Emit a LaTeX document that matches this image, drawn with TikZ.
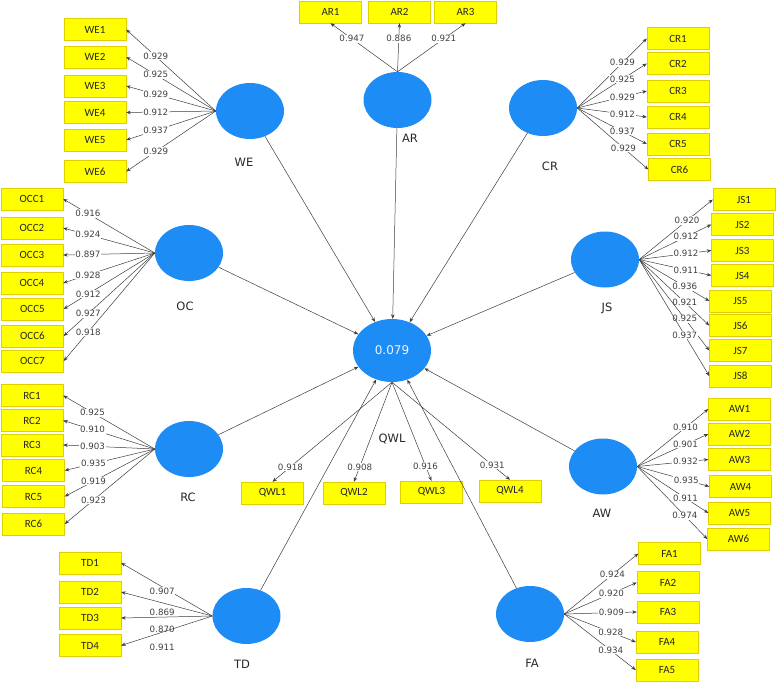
\documentclass[tikz,border=0pt]{standalone}
\usepackage{fontspec}
\setmainfont{DejaVu Sans}
\newfontfamily\boxfont{Carlito}
\usetikzlibrary{shapes.geometric,arrows.meta}
\definecolor{lvblue}{RGB}{30,140,245}
\definecolor{indyellow}{RGB}{255,255,0}
\definecolor{indedge}{RGB}{225,205,0}
\definecolor{pathgray}{RGB}{60,60,60}
\tikzset{
  lv/.style={ellipse,fill=lvblue,minimum width=68pt,minimum height=56pt,inner sep=0pt},
  ind/.style={rectangle,fill=indyellow,draw=indedge,line width=0.4pt,minimum width=62pt,
    minimum height=22pt,inner sep=0pt,text=black!85,font=\boxfont\fontsize{11}{13}\selectfont},
  lvname/.style={text=black!85,font=\fontsize{11.5}{13}\selectfont},
  wt/.style={fill=white,inner sep=0.8pt,text=black!75,font=\fontsize{8.7}{10}\selectfont},
  ln/.style={draw=pathgray,line width=0.5pt,-{Stealth[length=4.5pt,width=3.5pt]}},
}
\newcommand{\indbox}[4]{\node[ind] (#1) at (#2,#3) {#4};}
\newcommand{\ldline}[4]{\draw[ln] (#1) -- node[wt,#4] {#3} (#2);}

\begin{document}
\begin{tikzpicture}[x=1pt,y=-1pt]
\useasboundingbox (0,0) rectangle (777,683);
% ---- latent variables
\node[lv] (WE) at (250,111) {};
\node[lv] (AR) at (397.5,100) {};
\node[lv] (CR) at (543,108) {};
\node[lv] (OC) at (189,253) {};
\node[lv] (JS) at (605,259.5) {};
\node[lv,minimum width=78pt,minimum height=63pt,text=white!92!lvblue,font=\fontsize{12}{14}\selectfont] (QWL) at (392,350.5) {0.079};
\node[lv] (RC) at (189,449) {};
\node[lv] (AW) at (603,466.5) {};
\node[lv] (TD) at (246.5,616) {};
\node[lv] (FA) at (530,614) {};

% ---- names
\node[lvname] (WE-n) at (244,162) {WE};
\node[lvname] (AR-n) at (410,138) {AR};
\node[lvname] (CR-n) at (550,166) {CR};
\node[lvname] (OC-n) at (185,306) {OC};
\node[lvname] (JS-n) at (607,308) {JS};
\node[lvname] (QWL-n) at (392,439) {QWL};
\node[lvname] (RC-n) at (188,497) {RC};
\node[lvname] (AW-n) at (602,513) {AW};
\node[lvname] (TD-n) at (242,664) {TD};
\node[lvname] (FA-n) at (532,663) {FA};

% ---- indicators
\indbox{WE1}{95}{29.5}{WE1}
\indbox{WE2}{95}{57}{WE2}
\indbox{WE3}{95}{86}{WE3}
\indbox{WE4}{95}{112.5}{WE4}
\indbox{WE5}{95}{140}{WE5}
\indbox{WE6}{95}{171.5}{WE6}

\indbox{AR1}{330.5}{12}{AR1}
\indbox{AR2}{399.5}{12}{AR2}
\indbox{AR3}{465.5}{12}{AR3}

\indbox{CR1}{678}{38.5}{CR1}
\indbox{CR2}{678}{63.5}{CR2}
\indbox{CR3}{678}{91}{CR3}
\indbox{CR4}{678}{117}{CR4}
\indbox{CR5}{678}{144}{CR5}
\indbox{CR6}{679.5}{169.5}{CR6}

\indbox{OCC1}{32}{199}{OCC1}
\indbox{OCC2}{32}{228}{OCC2}
\indbox{OCC3}{32}{255}{OCC3}
\indbox{OCC4}{32}{283}{OCC4}
\indbox{OCC5}{32.5}{309}{OCC5}
\indbox{OCC6}{32.5}{336}{OCC6}
\indbox{OCC7}{32.5}{361}{OCC7}

\indbox{JS1}{744}{199.5}{JS1}
\indbox{JS2}{742.5}{224.5}{JS2}
\indbox{JS3}{742.5}{250.5}{JS3}
\indbox{JS4}{742.5}{275.5}{JS4}
\indbox{JS5}{740.5}{301}{JS5}
\indbox{JS6}{740.5}{325.5}{JS6}
\indbox{JS7}{740.5}{350.5}{JS7}
\indbox{JS8}{740.5}{376}{JS8}

\indbox{RC1}{32}{395.5}{RC1}
\indbox{RC2}{32}{420.5}{RC2}
\indbox{RC3}{32}{445}{RC3}
\indbox{RC4}{33.5}{470.5}{RC4}
\indbox{RC5}{33.5}{496.5}{RC5}
\indbox{RC6}{33.5}{524}{RC6}

\indbox{QWL1}{272.5}{493}{QWL1}
\indbox{QWL2}{354}{493}{QWL2}
\indbox{QWL3}{431.5}{492}{QWL3}
\indbox{QWL4}{510}{491}{QWL4}

\indbox{AW1}{739.5}{409}{AW1}
\indbox{AW2}{739.5}{434}{AW2}
\indbox{AW3}{739.5}{459.5}{AW3}
\indbox{AW4}{740.5}{486.5}{AW4}
\indbox{AW5}{739.5}{513}{AW5}
\indbox{AW6}{738.5}{539}{AW6}

\indbox{TD1}{90}{563}{TD1}
\indbox{TD2}{90}{592}{TD2}
\indbox{TD3}{90}{618}{TD3}
\indbox{TD4}{90}{645.5}{TD4}

\indbox{FA1}{669.5}{553.5}{FA1}
\indbox{FA2}{668}{582.5}{FA2}
\indbox{FA3}{668}{612}{FA3}
\indbox{FA4}{667}{642}{FA4}
\indbox{FA5}{667}{670}{FA5}

% ---- inner model
\draw[ln] (WE) -- (QWL);
\draw[ln] (AR) -- (QWL);
\draw[ln] (CR) -- (QWL);
\draw[ln] (OC) -- (QWL);
\draw[ln] (JS) -- (QWL);
\draw[ln] (RC) -- (QWL);
\draw[ln] (AW) -- (QWL);
\draw[ln] (TD) -- (QWL);
\draw[ln] (FA) -- (QWL);

% ---- outer loadings
\ldline{WE.west}{WE1.east}{0.929}{pos=.67}
\ldline{WE.west}{WE2.east}{0.925}{pos=.67}
\ldline{WE.west}{WE3.east}{0.929}{pos=.67}
\ldline{WE.west}{WE4.east}{0.912}{pos=.67}
\ldline{WE.west}{WE5.east}{0.937}{pos=.67}
\ldline{WE.west}{WE6.east}{0.929}{pos=.67}

\ldline{AR.north}{AR1.south}{0.947}{pos=.68}
\ldline{AR.north}{AR2.south}{0.886}{pos=.68}
\ldline{AR.north}{AR3.south}{0.921}{pos=.68}

\ldline{CR.east}{CR1.west}{0.929}{pos=.65}
\ldline{CR.east}{CR2.west}{0.925}{pos=.65}
\ldline{CR.east}{CR3.west}{0.929}{pos=.65}
\ldline{CR.east}{CR4.west}{0.912}{pos=.65}
\ldline{CR.east}{CR5.west}{0.937}{pos=.65}
\ldline{CR.east}{CR6.west}{0.929}{pos=.65}

\ldline{OC.west}{OCC1.east}{0.916}{pos=.73}
\ldline{OC.west}{OCC2.east}{0.924}{pos=.73}
\ldline{OC.west}{OCC3.east}{0.897}{pos=.73}
\ldline{OC.west}{OCC4.east}{0.928}{pos=.73}
\ldline{OC.west}{OCC5.east}{0.912}{pos=.73}
\ldline{OC.west}{OCC6.east}{0.927}{pos=.73}
\ldline{OC.west}{OCC7.east}{0.918}{pos=.73}

\ldline{JS.east}{JS1.west}{0.920}{pos=.65}
\ldline{JS.east}{JS2.west}{0.912}{pos=.65}
\ldline{JS.east}{JS3.west}{0.912}{pos=.65}
\ldline{JS.east}{JS4.west}{0.911}{pos=.65}
\ldline{JS.east}{JS5.west}{0.936}{pos=.65}
\ldline{JS.east}{JS6.west}{0.921}{pos=.65}
\ldline{JS.east}{JS7.west}{0.925}{pos=.65}
\ldline{JS.east}{JS8.west}{0.937}{pos=.65}

\ldline{RC.west}{RC1.east}{0.925}{pos=.68}
\ldline{RC.west}{RC2.east}{0.910}{pos=.68}
\ldline{RC.west}{RC3.east}{0.903}{pos=.68}
\ldline{RC.west}{RC4.east}{0.935}{pos=.68}
\ldline{RC.west}{RC5.east}{0.919}{pos=.68}
\ldline{RC.west}{RC6.east}{0.923}{pos=.68}

\ldline{QWL.south}{QWL1.north}{0.918}{pos=.85}
\ldline{QWL.south}{QWL2.north}{0.908}{pos=.85}
\ldline{QWL.south}{QWL3.north}{0.916}{pos=.85}
\ldline{QWL.south}{QWL4.north}{0.931}{pos=.85}

\ldline{AW.east}{AW1.west}{0.910}{pos=.68}
\ldline{AW.east}{AW2.west}{0.901}{pos=.68}
\ldline{AW.east}{AW3.west}{0.932}{pos=.68}
\ldline{AW.east}{AW4.west}{0.935}{pos=.68}
\ldline{AW.east}{AW5.west}{0.911}{pos=.68}
\ldline{AW.east}{AW6.west}{0.974}{pos=.68}

\ldline{TD.west}{TD1.east}{0.907}{pos=.55,yshift=-4pt}
\ldline{TD.west}{TD2.east}{0.869}{pos=.55,yshift=-10pt}
\ldline{TD.west}{TD3.east}{0.870}{pos=.55,yshift=-12pt}
\ldline{TD.west}{TD4.east}{0.911}{pos=.55,yshift=-15pt}

\ldline{FA.east}{FA1.west}{0.924}{pos=.65}
\ldline{FA.east}{FA2.west}{0.920}{pos=.65}
\ldline{FA.east}{FA3.west}{0.909}{pos=.65}
\ldline{FA.east}{FA4.west}{0.928}{pos=.65}
\ldline{FA.east}{FA5.west}{0.934}{pos=.65}
\end{tikzpicture}
\end{document}
